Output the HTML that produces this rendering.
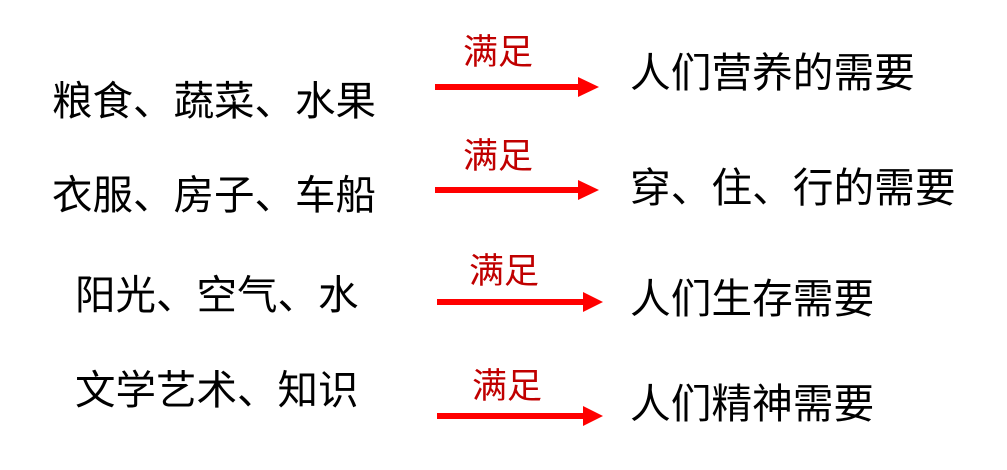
<!DOCTYPE html>
<html><head><meta charset="utf-8"><style>
html,body{margin:0;padding:0;background:#fff;width:1007px;height:470px;overflow:hidden}
.t{position:absolute;font-family:"Liberation Sans","Noto Sans CJK SC","WenQuanYi Zen Hei",sans-serif;line-height:1;white-space:nowrap;color:#000}
.l{font-size:40.5px}
.r{font-size:40.7px}
.m{font-size:35px;color:#c00000}
</style></head><body>
<div class="t l" style="left:52px;top:81px">粮食、蔬菜、水果</div>
<div class="t l" style="left:52px;top:175px">衣服、房子、车船</div>
<div class="t l" style="left:75px;top:275px">阳光、空气、水</div>
<div class="t l" style="left:75px;top:370px">文学艺术、知识</div>

<div class="t m" style="left:463px;top:35px">满足</div>
<div class="t m" style="left:463px;top:139px">满足</div>
<div class="t m" style="left:469px;top:254px">满足</div>
<div class="t m" style="left:472px;top:369px">满足</div>

<div class="t r" style="left:630px;top:53px">人们营养的需要</div>
<div class="t r" style="left:630px;top:168px">穿、住、行的需要</div>
<div class="t r" style="left:630px;top:279px">人们生存需要</div>
<div class="t r" style="left:630px;top:384px">人们精神需要</div>

<svg width="1007" height="470" style="position:absolute;left:0;top:0">
<g fill="#ff0000">
<rect x="435" y="84" width="145" height="6"/><polygon points="578,77 599,87 578,97"/>
<rect x="435" y="187" width="145" height="6"/><polygon points="578,180 599,190 578,200"/>
<rect x="437" y="299" width="148" height="6"/><polygon points="583,292 603,302 583,312"/>
<rect x="437" y="413" width="148" height="6"/><polygon points="583,406 603,416 583,426"/>
</g>
</svg>
</body></html>
